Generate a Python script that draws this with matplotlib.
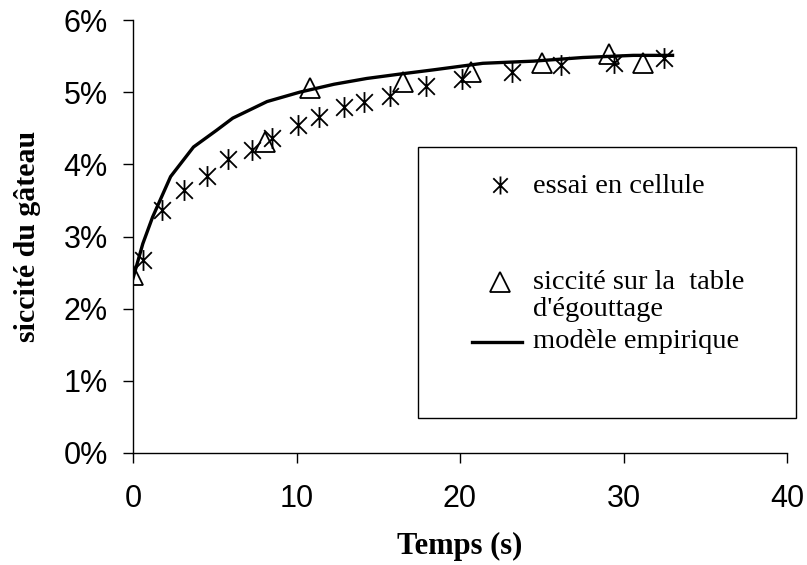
import matplotlib
matplotlib.use("Agg")
import matplotlib.pyplot as plt
from matplotlib.lines import Line2D
from matplotlib.patches import Rectangle
from matplotlib.path import Path
from matplotlib.ticker import PercentFormatter

# essai en cellule (asterisks)
t_cell = [0.6, 1.8, 3.1, 4.5, 5.8, 7.3, 8.5, 10.1, 11.4, 12.9, 14.1, 15.7, 17.9, 20.1, 23.2, 26.2, 29.4, 32.5]
s_cell = [2.67, 3.37, 3.64, 3.84, 4.07, 4.20, 4.36, 4.54, 4.65, 4.80, 4.87, 4.95, 5.08, 5.18, 5.28, 5.37, 5.40, 5.48]

# siccité sur la table d'égouttage (triangles)
t_table = [0.0, 8.1, 10.8, 16.5, 20.7, 25.0, 29.1, 31.2]
s_table = [2.47, 4.31, 5.06, 5.14, 5.28, 5.40, 5.53, 5.40]

# modèle empirique (line)
t_model = [0.0, 0.6, 1.2, 2.3, 3.7, 5.1, 6.1, 8.2, 10.2, 12.3, 14.3, 16.3, 18.4, 21.4, 24.5, 27.5, 30.6, 33.0]
s_model = [2.42, 2.90, 3.27, 3.83, 4.24, 4.47, 4.64, 4.87, 5.00, 5.11, 5.19, 5.25, 5.31, 5.40, 5.43, 5.48, 5.51, 5.51]

x_ticks = [0, 10, 20, 30, 40]
y_ticks = [0, 1, 2, 3, 4, 5, 6]

legend_labels = ["essai en cellule", "siccité sur la  table", "d'égouttage", "modèle empirique"]

# excel-style asterisk: vertical bar + X
star = Path([(0, -1), (0, 1), (-0.8, -0.8), (0.8, 0.8), (-0.8, 0.8), (0.8, -0.8)],
            [Path.MOVETO, Path.LINETO] * 3)

W, H = 807, 565
fig = plt.figure(figsize=(W / 100, H / 100), dpi=100)
ax = fig.add_axes([133 / W, 1 - 453 / H, (787 - 133) / W, (453 - 20) / H])

ax.plot(t_model, s_model, color="black", lw=2.4, zorder=2)
ax.plot(t_cell, s_cell, ls="none", marker=star, ms=15, mew=1.3, color="black", zorder=3)
ax.plot(t_table, s_table, ls="none", marker="^", ms=14, mew=1.3, mfc="none", mec="black", zorder=4)

ax.set_xlim(0, 40)
ax.set_ylim(0, 6)
ax.set_xticks(x_ticks)
ax.set_yticks(y_ticks)
ax.yaxis.set_major_formatter(PercentFormatter(xmax=100, decimals=0))
for s in ["top", "right"]:
    ax.spines[s].set_visible(False)
for s in ["left", "bottom"]:
    ax.spines[s].set_linewidth(1.0)
ax.tick_params(axis="both", direction="out", length=7, width=1.0, labelsize=22)
ax.tick_params(axis="x", pad=15)
ax.tick_params(axis="y", pad=11)
for lab in ax.get_xticklabels() + ax.get_yticklabels():
    lab.set_fontfamily("Liberation Sans")

ax.set_xlabel("Temps (s)", fontfamily="Liberation Serif", fontweight="bold", fontsize=22)
ax.set_ylabel("siccité du gâteau", fontfamily="Liberation Serif", fontweight="bold", fontsize=21.5)
ax.xaxis.set_label_coords(0.5, (453 - 532) / 433)
ax.yaxis.set_label_coords((41 - 133) / 654, 0.5)

# legend box drawn by hand
fx = lambda px: px / W
fy = lambda py: 1 - py / H
fig.add_artist(Rectangle((fx(418), fy(418)), fx(796) - fx(418), fy(147) - fy(418),
                         transform=fig.transFigure, fill=False, ec="black", lw=1.0))
fig.add_artist(Line2D([fx(500)], [fy(185)], transform=fig.transFigure, ls="none",
                      marker=star, ms=13, mew=1.3, color="black"))
fig.add_artist(Line2D([fx(500)], [fy(282)], transform=fig.transFigure, ls="none",
                      marker="^", ms=14, mew=1.3, mfc="none", mec="black"))
fig.add_artist(Line2D([fx(472), fx(522)], [fy(342), fy(342)], transform=fig.transFigure,
                      color="black", lw=2.4))
lk = dict(fontfamily="Liberation Serif", fontsize=20.5, va="baseline", ha="left")
fig.text(fx(533), fy(193), legend_labels[0], **lk)
fig.text(fx(533), fy(289), legend_labels[1], **lk)
fig.text(fx(533), fy(316), legend_labels[2], **lk)
fig.text(fx(533), fy(348), legend_labels[3], **lk)

fig.savefig("out.png", dpi=100)
